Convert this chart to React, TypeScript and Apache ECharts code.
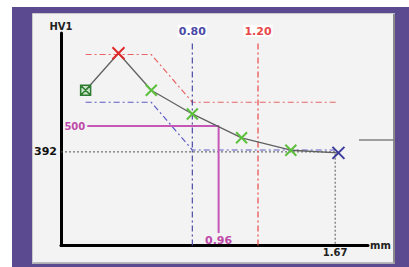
import React, { useEffect, useRef } from "react";
import * as echarts from "echarts";

// Measured hardness curve (depth mm, HV1)
const curveDepth = [0.15, 0.35, 0.55, 0.8, 1.1, 1.4, 1.69];
const curveHV = [650, 805, 650, 551, 451, 399, 388];
// Marker kind for each point: 0 start square, 1 red X, 2 green X, 3 blue X
const curveKind = [0, 1, 2, 2, 2, 2, 3];

// Tolerance bands
const upperDepth = [0.15, 0.55, 0.8, 1.68];
const upperHV = [800, 800, 600, 600];
const lowerDepth = [0.15, 0.55, 0.8, 1.67];
const lowerHV = [600, 600, 400, 400];

// Vertical reference depths
const refBlue = 0.8;
const refRed = 1.2;
const refTopHV = 853;

// Limit hardness 500 -> depth 0.96
const limitHV = 500;
const limitStart = 0.16;
const limitDepth = 0.96;
const limitBottomHV = 52;

// Core hardness 392 -> depth 1.67
const coreHV = 392;
const coreDepth = 1.67;

const xMax = 1.87;
const yMax = 890;

const FONT = "DejaVu Sans";

const X_PATH = "path://M0,0L10,10M10,0L0,10";
const SQ_PATH = "path://M0,0L10,0L10,10L0,10Z M0,0L10,10 M10,0L0,10";

function markerStyle(kind: number) {
  if (kind === 0)
    return {
      symbol: SQ_PATH,
      symbolSize: 10,
      itemStyle: { color: "rgba(120,200,120,0.35)", borderColor: "#2f7d2f", borderWidth: 1.5 },
    };
  const c = kind === 1 ? "#e02a2a" : kind === 2 ? "#5cc03c" : "#3b3b9c";
  return {
    symbol: X_PATH,
    symbolSize: kind === 2 ? 11 : 12,
    itemStyle: { color: "transparent", borderColor: c, borderWidth: 2 },
  };
}

const labelBase = { fontFamily: FONT, fontWeight: "bold" as const, fontSize: 11 };

export default function App() {
  const ref = useRef<HTMLDivElement>(null);
  useEffect(() => {
    document.body.style.margin = "0";
    const chart = echarts.init(ref.current!, null, { renderer: "svg" });
    const hidden = { color: "transparent", borderColor: "transparent" };
    const refLine = (x: number, color: string, text: string) => ({
      type: "line",
      data: [
        [x, 0],
        {
          value: [x, refTopHV],
          label: {
            show: true,
            position: "top",
            distance: 4,
            formatter: text,
            color,
            backgroundColor: "#ffffff",
            padding: [1, 1, 0, 1],
            ...labelBase,
          },
        },
      ],
      symbol: "circle",
      symbolSize: 1,
      showSymbol: true,
      itemStyle: hidden,
      lineStyle: { color, width: 1.2, type: [6, 3, 2, 3] },
      z: 2,
    });

    chart.setOption({
      animation: false,
      graphic: [
        { type: "rect", shape: { x: 12, y: 7, width: 397, height: 260 }, style: { fill: "#5c4a90" }, z: -10 },
        {
          type: "rect",
          shape: { x: 32.5, y: 13.5, width: 362, height: 250 },
          style: { fill: "#f3f3f4", stroke: "#c8c8cc", lineWidth: 1 },
          z: -9,
        },
        { type: "line", shape: { x1: 394, y1: 14, x2: 394, y2: 264 }, style: { stroke: "#8a8a8e", lineWidth: 2 }, z: -8 },
        { type: "line", shape: { x1: 33, y1: 263, x2: 395, y2: 263 }, style: { stroke: "#a8a8ac", lineWidth: 1.5 }, z: -8 },
        { type: "line", shape: { x1: 359, y1: 140, x2: 395, y2: 140 }, style: { stroke: "#808080", lineWidth: 1.5 }, z: -7 },
      ],
      grid: { left: 61, right: 41, top: 33, bottom: 21.5, containLabel: false, outerBoundsMode: "none" },
      xAxis: {
        type: "value",
        min: 0,
        max: xMax,
        name: "mm",
        nameLocation: "end",
        nameGap: 2,
        nameTextStyle: { fontFamily: FONT, fontWeight: "bold", fontSize: 10, color: "#222" },
        axisLine: { show: true, lineStyle: { color: "#000", width: 3 } },
        axisTick: { show: false },
        axisLabel: { show: false },
        splitLine: { show: false },
      },
      yAxis: {
        type: "value",
        min: 0,
        max: yMax,
        name: "HV1",
        nameLocation: "end",
        nameGap: 2,
        nameTextStyle: { fontFamily: FONT, fontWeight: "bold", fontSize: 10, color: "#222" },
        axisLine: { show: true, lineStyle: { color: "#000", width: 3 } },
        axisTick: { show: false },
        axisLabel: { show: false },
        splitLine: { show: false },
      },
      series: [
        {
          type: "line",
          data: [
            [0, coreHV],
            [coreDepth, coreHV],
            [coreDepth, 0],
          ].map((p, i) => {
            if (i === 0)
              return {
                value: p,
                label: { show: true, position: "left", distance: 3, formatter: String(coreHV), color: "#111", ...labelBase },
              };
            if (i === 2)
              return {
                value: p,
                label: {
                  show: true,
                  position: "bottom",
                  distance: 1,
                  formatter: coreDepth.toFixed(2),
                  color: "#222",
                  ...labelBase,
                  fontSize: 10,
                },
              };
            return { value: p };
          }),
          symbol: "circle",
          symbolSize: 1,
          itemStyle: hidden,
          lineStyle: { color: "#555", width: 1, type: [2, 2] },
          z: 1,
        },
        {
          type: "line",
          data: upperDepth.map((d, i) => [d, upperHV[i]]),
          symbol: "none",
          lineStyle: { color: "#e86464", width: 1.2, type: [6, 3, 2, 3] },
          z: 2,
        },
        {
          type: "line",
          data: lowerDepth.map((d, i) => [d, lowerHV[i]]),
          symbol: "none",
          lineStyle: { color: "#5c5cc4", width: 1.2, type: [6, 3, 2, 3] },
          z: 2,
        },
        refLine(refBlue, "#4a4aa6", refBlue.toFixed(2)),
        refLine(refRed, "#e84848", refRed.toFixed(2)),
        {
          type: "line",
          data: [
            {
              value: [limitStart, limitHV],
              label: {
                show: true,
                position: "left",
                distance: 1,
                formatter: String(limitHV),
                color: "#c04aa8",
                ...labelBase,
                fontSize: 10,
              },
            },
            { value: [limitDepth, limitHV] },
            {
              value: [limitDepth, limitBottomHV],
              label: {
                show: true,
                position: "bottom",
                distance: 1,
                formatter: limitDepth.toFixed(2),
                color: "#c04aa8",
                ...labelBase,
              },
            },
          ],
          symbol: "circle",
          symbolSize: 1,
          itemStyle: hidden,
          lineStyle: { color: "#c458b4", width: 2 },
          z: 3,
        },
        {
          type: "line",
          data: curveDepth.map((d, i) => ({ value: [d, curveHV[i]], ...markerStyle(curveKind[i]) })),
          lineStyle: { color: "#606060", width: 1.3 },
          z: 5,
        },
      ],
    });
    return () => chart.dispose();
  }, []);
  return <div ref={ref} style={{ width: 409, height: 267, background: "#ffffff" }} />;
}
